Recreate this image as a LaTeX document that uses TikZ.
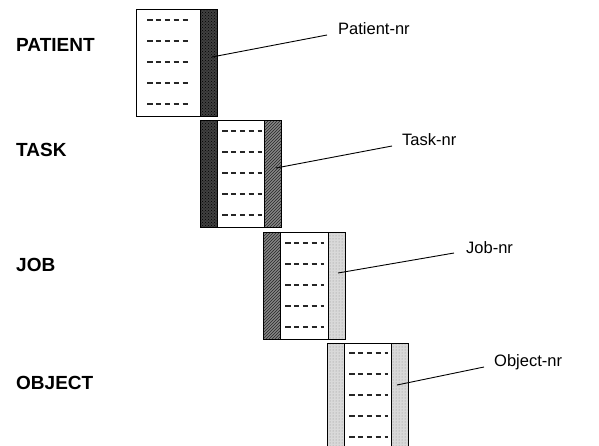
\documentclass[tikz,border=0pt]{standalone}
\usepackage{fontspec}
\setmainfont{Liberation Sans}
\usetikzlibrary{patterns}
\begin{document}
\begin{tikzpicture}[x=1pt,y=-1pt,
  record/.style={draw=black,line width=1.2pt,fill=white,minimum width=81pt,
    minimum height=107pt,inner sep=0pt,anchor=north west},
  keystrip/.style={draw=black,line width=1.2pt,minimum width=17pt,
    minimum height=107pt,inner sep=0pt,anchor=north west},
  darkkey/.style={keystrip,preaction={fill=black!75},pattern=crosshatch dots,pattern color=black},
  hatchkey/.style={keystrip,preaction={fill=black!48},pattern=north east lines,pattern color=black!85},
  lightkey/.style={keystrip,preaction={fill=black!15},pattern=dots,pattern color=black!45},
  fieldrow/.style={draw=black!85,line width=1.2pt,dash pattern=on 5.5pt off 3.4pt},
  entity/.style={font=\fontsize{19}{21}\selectfont\bfseries,anchor=base west,inner sep=0pt},
  keyname/.style={font=\fontsize{16.5}{18}\selectfont,anchor=base west,inner sep=0pt},
  leader/.style={draw=black,line width=0.9pt}]
\useasboundingbox (0,0) rectangle (599,446);
\clip (0,0) rectangle (599,446);

% entity names
\node[entity] (tpatient) at (16,52) {PATIENT};
\node[entity] (ttask) at (16,157) {TASK};
\node[entity] (tjob) at (16,271) {JOB};
\node[entity] (tobject) at (16,389) {OBJECT};

% PATIENT record
\node[record] (patient) at (136,9) {};
\node[darkkey] (patientkey) at (200,9) {};
\foreach \k in {0,...,4} \draw[fieldrow] (147,20+21*\k) -- ++(44,0);

% TASK record
\node[record] (task) at (200,120) {};
\node[darkkey] (taskfk) at (200,120) {};
\node[hatchkey] (taskkey) at (264,120) {};
\foreach \k in {0,...,4} \draw[fieldrow] (222,131+21*\k) -- ++(40,0);

% JOB record
\node[record] (job) at (263,232) {};
\node[hatchkey] (jobfk) at (263,232) {};
\node[lightkey] (jobkey) at (328,232) {};
\foreach \k in {0,...,4} \draw[fieldrow] (285,243+21*\k) -- ++(39,0);

% OBJECT record
\node[record,minimum height=115pt] (object) at (327,343) {};
\node[lightkey,minimum height=115pt] (objectfk) at (327,343) {};
\node[lightkey,minimum height=115pt] (objectkey) at (391,343) {};
\foreach \k in {0,...,4} \draw[fieldrow] (349,353+21*\k) -- ++(39,0);

% key labels with leader lines
\node[keyname] (lpatient) at (338,35) {Patient-nr};
\node[keyname] (ltask) at (402,146) {Task-nr};
\node[keyname] (ljob) at (466,254) {Job-nr};
\node[keyname] (lobject) at (494,366) {Object-nr};

\coordinate (ppatient) at (212,57);
\coordinate (ptask) at (276,168);
\coordinate (pjob) at (338,273);
\coordinate (pobject) at (397,385);
\coordinate (epatient) at (327,35);
\coordinate (etask) at (392,146);
\coordinate (ejob) at (454,253);
\coordinate (eobject) at (484,367);

\draw[leader] (ppatient) -- (epatient);
\draw[leader] (ptask) -- (etask);
\draw[leader] (pjob) -- (ejob);
\draw[leader] (pobject) -- (eobject);
\end{tikzpicture}
\end{document}
